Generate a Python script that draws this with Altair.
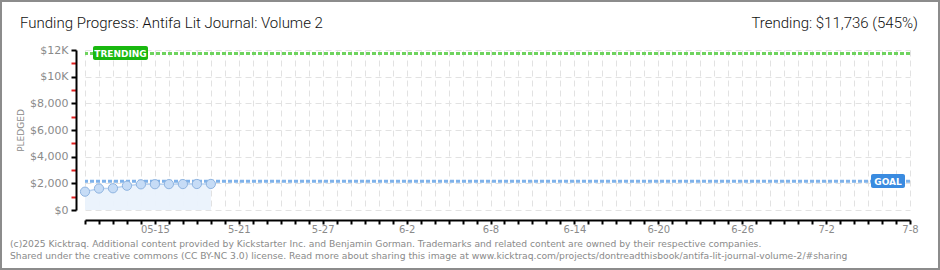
import altair as alt
import pandas as pd

# ---- data ----
start_date = "2025-05-10"
end_date = "2025-07-08"
dates = ["2025-05-10", "2025-05-11", "2025-05-12", "2025-05-13", "2025-05-14",
         "2025-05-15", "2025-05-16", "2025-05-17", "2025-05-18", "2025-05-19"]
pledged = [1375, 1610, 1630, 1820, 1925, 1935, 1940, 1945, 1950, 1955]
goal = 2153
trending = 11736
label_days = [5, 11, 17, 23, 29, 35, 41, 47, 53, 59]
label_texts = ["05-15", "5-21", "5-27", "6-2", "6-8", "6-14", "6-20", "6-26", "7-2", "7-8"]
y_ticks = list(range(0, 13000, 1000))

t0 = pd.Timestamp(start_date)
n_days = (pd.Timestamp(end_date) - t0).days
df = pd.DataFrame({"date": dates, "pledged": pledged})
df["day"] = [(pd.Timestamp(d) - t0).days for d in dates]

W, H = 825, 160
GRAY = "#8a8a8a"
FONT = "DejaVu Sans"

xscale = alt.Scale(domain=[0, n_days], nice=False, zero=False)
yscale = alt.Scale(domain=[0, 12000], nice=False)

lab_expr = ""
for d, t in zip(label_days, label_texts):
    lab_expr += "datum.value == %d ? '%s' : " % (d, t)
lab_expr += "''"

x_axis = alt.Axis(values=list(range(0, n_days + 1)), tickCount=200, labelExpr=lab_expr, title=None,
                  offset=10, domainColor="black", domainWidth=2, tickColor="black",
                  tickSize=4, tickWidth=2, labelColor=GRAY, labelFont=FONT, labelFontSize=10,
                  labelPadding=0, grid=True, gridColor="#e2e2e2", gridDash=[6, 4],
                  labelOverlap=False, labelFlush=False, labelBound=False)
y_axis = alt.Axis(values=y_ticks, tickCount=100,
                  labelExpr="datum.value % 2000 != 0 ? '' : (datum.value >= 10000 ? '$' + datum.value/1000 + 'K' : '$' + format(datum.value, ','))",
                  title="PLEDGED", titleFont=FONT, titleFontSize=9, titleColor=GRAY,
                  titleFontWeight="normal", titlePadding=4,
                  offset=9, domainColor="black", domainWidth=2,
                  tickColor={"condition": {"test": "datum.value % 2000 != 0", "value": "#e02020"}, "value": "black"},
                  tickSize=5, tickWidth=2, labelColor=GRAY, labelFont=FONT, labelFontSize=11,
                  labelPadding=3, labelOverlap=False, labelFlush=False, labelBound=False,
                  grid=True, gridDash=[6, 4],
                  gridColor={"condition": {"test": "datum.value % 2000 != 0", "value": "transparent"}, "value": "#e2e2e2"})

base = alt.Chart(df)

area = base.mark_area(color="#eaf2fc", opacity=0.95).encode(
    x=alt.X("day:Q", scale=xscale, axis=x_axis),
    y=alt.Y("pledged:Q", scale=yscale, axis=y_axis),
)
line = base.mark_line(color="#b9d3f1", strokeWidth=1.5).encode(x="day:Q", y="pledged:Q")
points = base.mark_circle(size=85, color="#c6dcf6", stroke="#8fb4e0", strokeWidth=1, opacity=1).encode(
    x="day:Q", y="pledged:Q")

goal_rule = alt.Chart(pd.DataFrame({"v": [goal]})).mark_rule(
    color="#7fb2ea", strokeWidth=3, strokeDash=[4, 2]).encode(y="v:Q")
trend_rule = alt.Chart(pd.DataFrame({"v": [trending]})).mark_rule(
    color="#6fd35f", strokeWidth=3, strokeDash=[4, 2]).encode(y="v:Q")

trend_box = alt.Chart(pd.DataFrame({"t": ["TRENDING"]})).mark_rect(
    color="#19b80f", cornerRadius=2).encode(
    x=alt.value(8), x2=alt.value(63), y=alt.value(-4), y2=alt.value(10))
trend_txt = alt.Chart(pd.DataFrame({"t": ["TRENDING"]})).mark_text(
    color="white", font=FONT, fontSize=9, fontWeight="bold", align="center", baseline="middle").encode(
    x=alt.value(35.5), y=alt.value(3.5), text="t:N")
goal_box = alt.Chart(pd.DataFrame({"t": ["GOAL"]})).mark_rect(
    color="#3a8be0", cornerRadius=2).encode(
    x=alt.value(786), x2=alt.value(820), y=alt.value(124), y2=alt.value(138))
goal_txt = alt.Chart(pd.DataFrame({"t": ["GOAL"]})).mark_text(
    color="white", font=FONT, fontSize=9, fontWeight="bold", align="center", baseline="middle").encode(
    x=alt.value(803), y=alt.value(131.5), text="t:N")

title_df = pd.DataFrame({"t": ["Funding Progress: Antifa Lit Journal: Volume 2"]})
title_txt = alt.Chart(title_df).mark_text(
    font="Roboto", fontSize=15, fontWeight=300, color="#111", align="left", baseline="alphabetic").encode(
    x=alt.value(-65), y=alt.value(-22), text="t:N")
trend_head = alt.Chart(pd.DataFrame({"t": ["Trending:  $11,736 (545%)"]})).mark_text(
    font="Roboto", fontSize=15, fontWeight=300, color="#111", align="right", baseline="alphabetic").encode(
    x=alt.value(833), y=alt.value(-22), text="t:N")

foot_lines = ["(c)2025 Kicktraq. Additional content provided by Kickstarter Inc. and Benjamin Gorman. Trademarks and related content are owned by their respective companies.",
              "Shared under the creative commons (CC BY-NC 3.0) license. Read more about sharing this image at www.kicktraq.com/projects/dontreadthisbook/antifa-lit-journal-volume-2/#sharing"]
foot1 = alt.Chart(pd.DataFrame({"t": [foot_lines[0]]})).mark_text(
    font=FONT, fontSize=9.2, color=GRAY, align="left", baseline="alphabetic").encode(
    x=alt.value(-75), y=alt.value(197), text="t:N")
foot2 = alt.Chart(pd.DataFrame({"t": [foot_lines[1]]})).mark_text(
    font=FONT, fontSize=9.2, color=GRAY, align="left", baseline="alphabetic").encode(
    x=alt.value(-75), y=alt.value(209), text="t:N")

border = alt.Chart(pd.DataFrame({"b": [1]})).mark_rect(
    fill=None, stroke="#8c8c8c", strokeWidth=2).encode(
    x=alt.value(-84), x2=alt.value(854), y=alt.value(-49), y2=alt.value(219))

chart = alt.layer(
    area, goal_rule, trend_rule, line, points,
    trend_box, trend_txt, goal_box, goal_txt,
    title_txt, trend_head, foot1, foot2, border
).properties(
    width=W, height=H,
    autosize=alt.AutoSizeParams(type="none"),
    padding={"left": 85, "top": 50, "right": 30, "bottom": 60},
    background="white",
).configure_view(stroke=None)

chart.save("out.html", embed_options={"renderer": "svg", "actions": False})
